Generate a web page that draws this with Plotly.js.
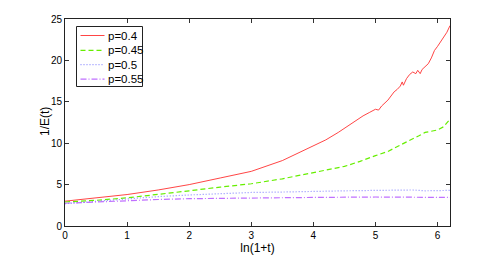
<!DOCTYPE html>
<html><head><meta charset="utf-8">
<script src="https://cdn.plot.ly/plotly-3.0.1.min.js"></script>
<style>html,body{margin:0;padding:0;background:#fff;}#chart{width:497px;height:255px;}</style>
</head><body><div id="chart"></div>
<script>
var names = ["p=0.4", "p=0.45", "p=0.5", "p=0.55"];
var xRed = [0,0.5,1,1.5,2,2.5,3,3.5,4,4.2,4.4,4.5,4.6,4.7,4.8,4.9,5.0,5.05,5.1,5.2,5.3,5.35,5.4,5.43,5.45,5.5,5.55,5.6,5.65,5.68,5.72,5.75,5.8,5.85,5.9,5.95,6.0,6.05,6.1,6.15,6.2];
var yRed = [3.0,3.4,3.8,4.35,5.0,5.8,6.6,7.9,9.7,10.4,11.3,11.8,12.4,12.8,13.3,13.7,14.1,14.0,14.5,15.2,16.2,16.5,16.9,17.4,17.0,17.8,18.3,18.6,18.4,18.8,18.4,18.9,19.2,19.6,20.3,21.2,21.7,22.3,22.8,23.4,24.2];
var xGreen = [0,0.5,1,1.5,2,2.5,3,3.5,4,4.3,4.5,4.75,5.0,5.2,5.3,5.5,5.7,5.8,6.0,6.1,6.15,6.2];
var yGreen = [2.9,3.1,3.4,3.8,4.25,4.7,5.1,5.7,6.4,6.9,7.2,7.8,8.5,9.0,9.4,10.1,10.9,11.3,11.6,12.0,12.5,12.9];
var xBlue = [0,0.5,1,1.5,2,2.5,3,3.5,4,4.5,5,5.5,5.6,5.8,6.2];
var yBlue = [2.7,3.0,3.3,3.55,3.75,3.9,4.05,4.1,4.2,4.25,4.3,4.4,4.35,4.25,4.3];
var xPurple = [0,0.5,1,1.5,2,3,4,5,6.2];
var yPurple = [2.75,2.9,3.1,3.2,3.3,3.4,3.45,3.5,3.45];
var xTicks = [0,1,2,3,4,5,6];
var yTicks = [0,5,10,15,20,25];

var colors = ['#ff3030', '#66ee00', '#8c8cff', '#c070ff'];
var dashes = ['solid', '5px,3px', '1px,2px', '6px,2px,1px,2px'];
var widths = [0.9, 1.2, 1.2, 1.2];
var xs = [xRed, xGreen, xBlue, xPurple];
var ys = [yRed, yGreen, yBlue, yPurple];
var traces = names.map(function(n, i){
  return {x:xs[i], y:ys[i], name:n, mode:'lines', showlegend:false,
    line:{color:colors[i], width:widths[i], dash:dashes[i]}};
});

var FONT = 'Liberation Sans, Arial, sans-serif';
var plotL = 65, plotT = 19, plotW = 497 - 65 - 47, plotH = 255 - 19 - 29;
function px2x(p){ return (p - plotL) / plotW; }
function py2y(p){ return (plotT + plotH - p) / plotH; }
var shapes = [{type:'rect', xref:'paper', yref:'paper', x0:px2x(76.5), x1:px2x(142.5), y0:py2y(86.5), y1:py2y(26.5),
  fillcolor:'#fff', line:{color:'#222', width:1}, layer:'above'}];
var annotations = [];
var rowY = [35.5, 50.3, 64.6, 79.2];
names.forEach(function(n, i){
  shapes.push({type:'line', xref:'paper', yref:'paper', x0:px2x(80.5), x1:px2x(104.5), y0:py2y(rowY[i]), y1:py2y(rowY[i]),
    line:{color:colors[i], width:widths[i], dash:dashes[i]}, layer:'above'});
  annotations.push({xref:'paper', yref:'paper', x:px2x(105.5), y:py2y(rowY[i]), xanchor:'left', yanchor:'middle',
    text:n, showarrow:false, font:{family:FONT, size:11.5, color:'#000'}});
});
// y axis title
annotations.push({xref:'paper', yref:'paper', x:px2x(45), y:py2y(122), xanchor:'center', yanchor:'middle',
  text:'1/E(t)', textangle:-90, showarrow:false, font:{family:FONT, size:12, color:'#000'}});

var axisCommon = {showgrid:false, zeroline:false, ticks:'inside', ticklen:4, tickcolor:'#333',
  showline:true, linecolor:'#222', linewidth:1, mirror:'ticks',
  tickfont:{family:FONT, size:10, color:'#000'}};
var layout = {
  width:497, height:255,
  margin:{l:65, r:47, t:19, b:29},
  paper_bgcolor:'#fff', plot_bgcolor:'#fff',
  xaxis:Object.assign({}, axisCommon, {range:[0,6.2], tickvals:xTicks, ticktext:xTicks.map(String),
    title:{text:'ln(1+t)', standoff:1, font:{family:FONT, size:12, color:'#000'}}}),
  yaxis:Object.assign({}, axisCommon, {range:[0,25], tickvals:yTicks, ticktext:yTicks.map(String)}),
  showlegend:false,
  shapes:shapes, annotations:annotations
};
Plotly.newPlot('chart', traces, layout, {displayModeBar:false, staticPlot:true});
</script></body></html>
